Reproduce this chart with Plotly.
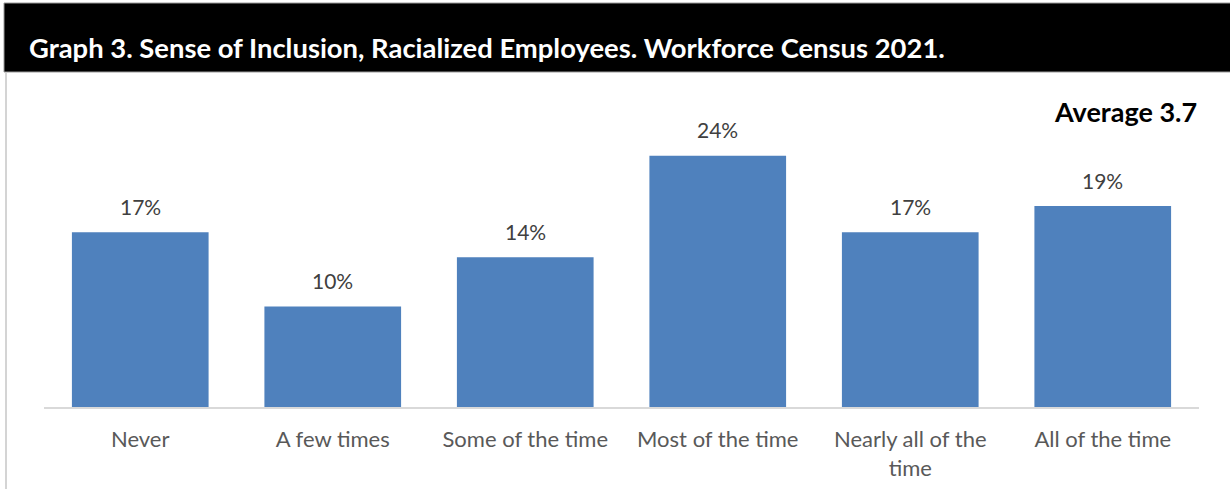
import plotly.graph_objects as go

categories = ["Never", "A few times", "Some of the time", "Most of the time",
              "Nearly all of the<br>time", "All of the time"]
values = [16.7, 9.6, 14.3, 24.0, 16.7, 19.2]
value_labels = ["17%", "10%", "14%", "24%", "17%", "19%"]
title_text = "Graph 3. Sense of Inclusion, Racialized Employees. Workforce Census 2021."
average_text = "Average 3.7"

W, H = 1230, 489
L, R, T, B = 44, 31, 93, 82
pw, ph = W - L - R, H - T - B


def px_x(x):
    return (x - L) / pw


def px_y(y):
    return (H - B - y) / ph


FONT = "Lato, 'Open Sans', sans-serif"

fig = go.Figure()
fig.add_trace(go.Bar(
    x=categories, y=values,
    marker=dict(color="#4F81BD", line=dict(width=0)),
    hoverinfo="skip",
))

for c, v, t in zip(categories, values, value_labels):
    fig.add_annotation(x=c, y=v, xref="x", yref="y", text=t, showarrow=False,
                       yanchor="middle", yshift=26,
                       font=dict(family=FONT, size=21, color="#404040"))

shapes = [
    dict(type="rect", xref="paper", yref="paper",
         x0=px_x(4), x1=px_x(1232), y0=px_y(72), y1=px_y(3),
         fillcolor="black", line=dict(color="#9a9a9a", width=1), layer="below"),
    dict(type="line", xref="paper", yref="paper",
         x0=px_x(6), x1=px_x(6), y0=px_y(73), y1=px_y(495),
         line=dict(color="#d4d4d4", width=2)),
]

fig.add_annotation(xref="paper", yref="paper", x=px_x(27), y=px_y(47.5),
                   xanchor="left", yanchor="middle", showarrow=False,
                   text="<b>" + title_text + "</b>",
                   font=dict(family=FONT, size=27.4, color="white"))
fig.add_annotation(xref="paper", yref="paper", x=1.0, y=px_y(111.5),
                   xanchor="right", yanchor="middle", showarrow=False,
                   text="<b>" + average_text + "</b>",
                   font=dict(family=FONT, size=27, color="black"))

fig.update_layout(
    width=W, height=H,
    margin=dict(l=L, r=R, t=T, b=B, autoexpand=False),
    paper_bgcolor="white", plot_bgcolor="white",
    bargap=0.29, showlegend=False,
    shapes=shapes,
    xaxis=dict(showline=True, linecolor="#d9d9d9", linewidth=2,
               ticks="outside", ticklen=12, tickcolor="rgba(0,0,0,0)",
               tickfont=dict(family=FONT, size=22, color="#595959"),
               showgrid=False, zeroline=False, fixedrange=True),
    yaxis=dict(range=[0, 30], visible=False, showgrid=False, zeroline=False,
               fixedrange=True),
)

fig.write_html("out.html", config={"displayModeBar": False},
               post_script="document.body.style.margin='0';document.body.style.overflow='hidden';")
